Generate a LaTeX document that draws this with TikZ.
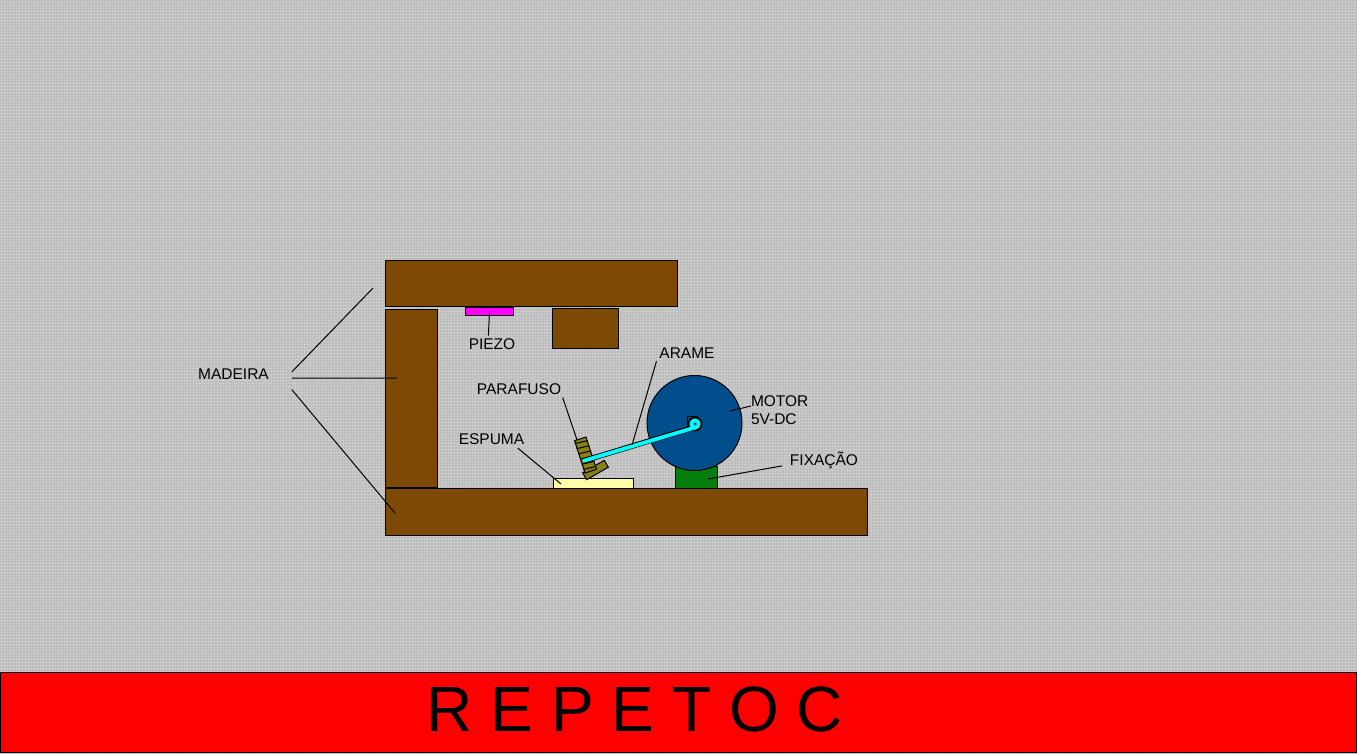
\documentclass[tikz,border=0pt]{standalone}
\usepackage{fontspec}
\setmainfont{Liberation Sans}
\usetikzlibrary{calc,positioning,patterns.meta}
\definecolor{rpfundo}{RGB}{202,202,202}
\definecolor{rpponto}{RGB}{140,140,140}
\definecolor{rpmadeira}{RGB}{124,74,4}
\definecolor{rpmotor}{RGB}{2,78,140}
\definecolor{rpverde}{RGB}{4,126,10}
\definecolor{rpespuma}{RGB}{255,255,170}
\definecolor{rpoliva}{RGB}{136,128,24}
\definecolor{rpmagenta}{RGB}{255,0,255}
\definecolor{rpciano}{RGB}{0,255,255}
\definecolor{rpvermelho}{RGB}{255,0,0}

\begin{document}
\begin{tikzpicture}[x=1pt, y=-1pt,
  partbox/.style={rectangle, draw=black, line width=1pt, inner sep=0pt, outer sep=0pt},
  woodbox/.style={partbox, fill=rpmadeira},
  rotulo/.style={font=\fontsize{15.5}{15.5}\selectfont, inner sep=3pt, outer sep=0pt, text=black},
  guia/.style={draw=black, line width=1pt}]

  \path[use as bounding box, fill=rpfundo] (0,0) rectangle (1357,754);
  \fill[pattern={Dots[distance=3pt, radius=0.55pt]}, pattern color=rpponto] (0,0) rectangle (1357,754);

  % Title bar
  \node[partbox, fill=rpvermelho, minimum width=1356pt, minimum height=80pt] (barra) at (678.5,712.5) {};
  \node[font=\fontsize{64}{64}\selectfont, inner sep=0pt] (titulo) at (635,709) {R E P E T O C};

  % Wood
  \node[woodbox, minimum width=292pt, minimum height=46pt] (tampo)  at (531.5,283) {};
  \node[woodbox, minimum width=52pt,  minimum height=178pt] (coluna) at (411.5,398) {};
  \node[woodbox, minimum width=482pt, minimum height=47pt] (base)   at (626.5,512) {};
  \node[woodbox, minimum width=66pt,  minimum height=40pt] (bloco)  at (585.5,328.5) {};

  % Parts
  \node[partbox, fill=rpmagenta, minimum width=48pt, minimum height=8pt] (piezo) at (489.5,311.5) {};
  \node[partbox, fill=rpespuma, minimum width=80pt, minimum height=10pt] (espuma) at (593.5,483) {};
  \node[partbox, fill=rpverde, minimum width=42pt, minimum height=22pt] (fixacao) at (696.5,477) {};
  \node[partbox, circle, fill=rpmotor, minimum size=95pt] (motor) at (694.5,423) {};

  % Screw
  \node[partbox, fill=rpoliva, minimum width=25pt, minimum height=8pt, rotate=30] (cabeca) at (595.5,470) {};
  \node[partbox, fill=rpoliva, minimum width=34pt, minimum height=12pt, rotate=-72] (parafuso) at (585.5,455) {};
  \foreach \t in {0.1,0.26,0.42,0.58,0.74,0.9}
    \draw[line width=1pt] ($(parafuso.west)!\t!(parafuso.east)$) ++(-6.5,1.5) -- ++(13,-3);

  % Wire and shaft
  \node[draw=black, line width=1pt, minimum size=10.5pt, inner sep=0pt] (eixo) at (692.5,421.5) {};
  \coordinate (pontaarame) at (583,461);
  \draw[line width=5.4pt, black] (pontaarame) -- (695,427);
  \node[circle, draw=black, fill=rpciano, line width=1.8pt, minimum size=13pt, inner sep=0pt] (anel) at (695,424) {};
  \draw[line width=3.8pt, rpciano] (pontaarame) -- (695,427.5);
  \node[circle, fill=rpmotor, minimum size=3.5pt, inner sep=0pt] (furo) at (anel) {};

  % Labels
  \node[rotulo, inner xsep=23pt, minimum height=34pt] (madeira) at (233.5,374) {MADEIRA};
  \node[rotulo] (lblpiezo)  at (492,344) {PIEZO};
  \node[rotulo] (lblarame)  at (687,353) {ARAME};
  \node[rotulo] (lblparaf)  at (519,389) {PARAFUSO};
  \node[rotulo] (lblespuma) at (491.5,439.5) {ESPUMA};
  \node[rotulo, align=left, anchor=west, inner xsep=0pt] (lblmotor) at (751,410) {MOTOR\\[2.5pt]5V-DC};
  \node[rotulo, inner xsep=8pt] (lblfix)    at (824,460) {FIXAÇÃO};

  % Leaders
  \coordinate (alvotampo) at (373,288);
  \coordinate (alvocoluna) at (397,378);
  \coordinate (alvobase) at (395,513);
  \coordinate (alvoparaf) at (577,440);
  \coordinate (alvoespuma) at (561,484);
  \coordinate (alvoarame) at (632,445);
  \coordinate (alvomotor) at (730,411);
  \coordinate (alvofix) at (708,479);

  \draw[guia] (madeira.2)   -- (alvotampo);
  \draw[guia] (madeira.-4)  -- (alvocoluna);
  \draw[guia] (madeira.-15) -- (alvobase);
  \draw[guia] (piezo.center) -- (lblpiezo.113);
  \draw[guia] (lblparaf.-11) -- (alvoparaf);
  \draw[guia] (lblespuma.-18) -- (alvoespuma);
  \draw[guia] (lblarame.south west) -- (alvoarame);
  \draw[guia] (lblmotor.west) ++(0,-4) -- (alvomotor);
  \draw[guia] (lblfix.-172) -- (alvofix);
\end{tikzpicture}
\end{document}
